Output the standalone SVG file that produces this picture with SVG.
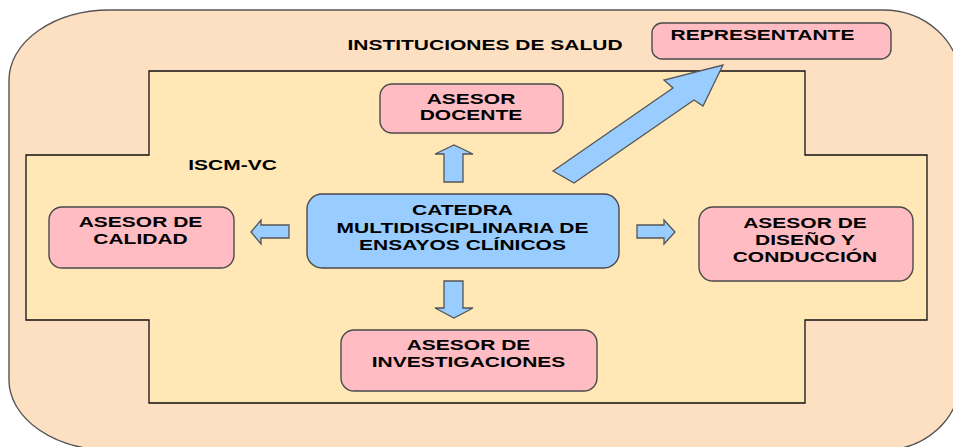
<svg xmlns="http://www.w3.org/2000/svg" width="953" height="447" viewBox="0 0 953 447">
<style>
.lbl{font-family:"Liberation Sans",Arial,sans-serif;font-weight:bold;font-size:15px;fill:#000;text-anchor:middle}
.pink{fill:#FFBCC2;stroke:#4a4a4a;stroke-width:1.4}
.blue{fill:#99CCFF;stroke:#4a4a4a;stroke-width:1.4}
.arrow{fill:#99CCFF;stroke:#555;stroke-width:1.3;stroke-linejoin:miter}
</style>
<rect width="953" height="447" fill="#ffffff"/>
<g id="instituciones">
<path d="M110,10 H883 A77 70 0 0 1 960 80 V380 A77 70 0 0 1 883 450 H110 A101 70 0 0 1 9 380 V80 A101 70 0 0 1 110 10 Z" fill="#FDDFC1" stroke="#555" stroke-width="1.4"/>
<text class="lbl" transform="translate(485,0) scale(1.4,1)"><tspan x="0" y="50">INSTITUCIONES DE SALUD</tspan></text>
</g>
<g id="iscm-vc">
<path d="M149,71 H805 V155 H927 V320 H805 V403 H149 V320 H26 V155 H149 Z" fill="#FFE7B6" stroke="#111" stroke-width="1.3"/>
<text class="lbl" transform="translate(232.5,0) scale(1.4,1)"><tspan x="0" y="170">ISCM-VC</tspan></text>
</g>
<g id="connectors">
<polygon class="arrow" points="553,171 673,88 664,80 723,65 703,106 694,100 574,183"/>
<polygon class="arrow" points="444,182 444,154 435,154 454,145 473,154 463,154 463,182"/>
<polygon class="arrow" points="444,281 463,281 463,308 473,308 454,318 435,308 444,308"/>
<polygon class="arrow" points="289,225 289,238 261,238 261,244 251,232 261,220 261,225"/>
<polygon class="arrow" points="637,225 664,225 664,220 675,232 664,244 664,238 637,238"/>
</g>
<g id="representante">
<rect class="pink" x="652" y="23" width="239" height="36" rx="10"/>
<text class="lbl" transform="translate(762.5,0) scale(1.4,1)"><tspan x="0" y="40">REPRESENTANTE</tspan></text>
</g>
<g id="asesor-docente">
<rect class="pink" x="380" y="84" width="183" height="49" rx="12"/>
<text class="lbl" transform="translate(471,0) scale(1.4,1)"><tspan x="0" y="104">ASESOR</tspan><tspan x="0" y="120">DOCENTE</tspan></text>
</g>
<g id="catedra">
<rect class="blue" x="307" y="194" width="312" height="74" rx="15"/>
<text class="lbl" transform="translate(462.5,0) scale(1.4,1)"><tspan x="0" y="215.5">CATEDRA</tspan><tspan x="0" y="233">MULTIDISCIPLINARIA DE</tspan><tspan x="0" y="250.5">ENSAYOS CLÍNICOS</tspan></text>
</g>
<g id="asesor-calidad">
<rect class="pink" x="49" y="207" width="185" height="61" rx="13"/>
<text class="lbl" transform="translate(140.5,0) scale(1.4,1)"><tspan x="0" y="227">ASESOR DE</tspan><tspan x="0" y="244">CALIDAD</tspan></text>
</g>
<g id="asesor-diseno">
<rect class="pink" x="699" y="207" width="214" height="74" rx="14"/>
<text class="lbl" transform="translate(805,0) scale(1.4,1)"><tspan x="0" y="228">ASESOR DE</tspan><tspan x="0" y="245">DISEÑO Y</tspan><tspan x="0" y="262">CONDUCCIÓN</tspan></text>
</g>
<g id="asesor-investigaciones">
<rect class="pink" x="341" y="330" width="256" height="61" rx="13"/>
<text class="lbl" transform="translate(468.5,0) scale(1.4,1)"><tspan x="0" y="350">ASESOR DE</tspan><tspan x="0" y="367">INVESTIGACIONES</tspan></text>
</g>
</svg>
